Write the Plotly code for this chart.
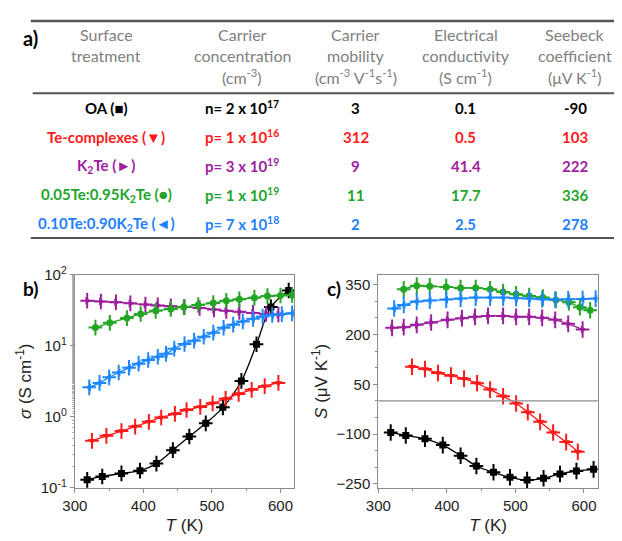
import plotly.graph_objects as go

# ---------------- table data ----------------
header_col1 = ["Surface", "treatment"]
header_col2 = ["Carrier", "concentration", "(cm<sup>-3</sup>)"]
header_col3 = ["Carrier", "mobility", "(cm<sup>-3</sup> V<sup>-1</sup>s<sup>-1</sup>)"]
header_col4 = ["Electrical", "conductivity", "(S cm<sup>-1</sup>)"]
header_col5 = ["Seebeck", "coefficient", "(μV K<sup>-1</sup>)"]

treatments = ["OA (■)", "Te-complexes (▼)", "K<sub>2</sub>Te (►)",
              "0.05Te:0.95K<sub>2</sub>Te (●)", "0.10Te:0.90K<sub>2</sub>Te (◄)"]
carrier_conc = ["n= 2 x 10<sup>17</sup>", "p= 1 x 10<sup>16</sup>", "p= 3 x 10<sup>19</sup>",
                "p= 1 x 10<sup>19</sup>", "p= 7 x 10<sup>18</sup>"]
mobility = ["3", "312", "9", "11", "2"]
conductivity = ["0.1", "0.5", "41.4", "17.7", "2.5"]
seebeck = ["-90", "103", "222", "336", "278"]
row_colors = ["#000000", "#FF1A1A", "#A0209F", "#22A52B", "#1F7FFF"]

# ---------------- panel b: conductivity ----------------
T_oa_b = [318, 340, 368, 395, 419, 443, 467, 491, 516, 543, 565, 586, 612]
sig_oa = [0.13, 0.145, 0.16, 0.175, 0.22, 0.34, 0.53, 0.81, 1.36, 3.2, 10.5, 35, 60]

T_te_b = [325, 346, 368, 388, 408, 426, 446, 463, 483, 501, 520, 539, 558, 577, 597]
sig_te = [0.46, 0.54, 0.63, 0.73, 0.85, 0.98, 1.1, 1.25, 1.38, 1.55, 1.8, 2.1, 2.4, 2.7, 3.0]

T_k2_b = [318, 338, 360, 381, 403, 421, 440, 460, 482, 503, 521, 540, 560, 579, 597]
sig_k2 = [43, 42, 41, 39.5, 38, 37, 36, 35, 34, 32.5, 31, 30, 29, 28, 27.5]

T_g_b = [330, 351, 376, 396, 418, 440, 459, 480, 502, 521, 540, 562, 581, 600, 617]
sig_g = [18, 21, 24.5, 28, 31, 33, 35, 37.5, 40, 43, 45, 47.5, 50, 51, 52]

T_bl_b = [321, 336, 350, 364, 379, 393, 407, 421, 433, 445, 460, 474, 488, 502, 517,
          531, 545, 560, 574, 588, 602, 617]
sig_bl = [2.6, 3.0, 3.6, 4.2, 4.9, 5.6, 6.3, 7.0, 7.7, 9.1, 10.6, 11.8, 13.4, 15.3, 17.9,
          19.8, 22.0, 23.9, 25.8, 27.1, 27.9, 28.6]

# ---------------- panel c: Seebeck ----------------
T_oa_c = [318, 340, 368, 394, 420, 443, 468, 492, 517, 541, 565, 589, 614]
S_oa = [-95, -104, -114, -133, -165, -196, -215, -230, -238, -233, -220, -211, -206]

T_te_c = [349, 368, 387, 406, 425, 444, 463, 482, 501, 518, 536, 555, 574, 591]
S_te = [103, 96, 84, 76, 67, 53, 34, 14, -8, -34, -63, -95, -124, -153]

T_k2_c = [320, 337, 356, 377, 401, 422, 441, 460, 482, 501, 520, 539, 558, 577, 598]
S_k2 = [220, 222, 229, 236, 244, 249, 253, 256, 256, 253, 253, 250, 244, 232, 215]

T_g_c = [337, 356, 375, 399, 420, 442, 463, 482, 501, 520, 540, 559, 578, 594, 609]
S_g = [336, 347, 345, 343, 340, 340, 336, 328, 321, 316, 311, 304, 297, 282, 273]

T_bl_c = [323, 337, 356, 375, 399, 420, 442, 463, 482, 501, 520, 539, 558, 577, 598, 617]
S_bl = [278, 289, 299, 302, 305, 308, 311, 311, 311, 309, 308, 306, 305, 306, 307, 308]

# ---------------- styling ----------------
W, H = 622, 541
PLOT_FONT = "Liberation Sans, Arial, sans-serif"
TABLE_FONT = "Lato, Open Sans, sans-serif"
COL_X = [87, 226, 342, 454, 566]

def px(x):
    return x / W

def py(y):
    return 1 - y / H

fig = go.Figure()

series_b = [
    (T_oa_b, sig_oa, row_colors[0], "square"),
    (T_te_b, sig_te, row_colors[1], "triangle-down"),
    (T_k2_b, sig_k2, "#9C1F9C", "triangle-right"),
    (T_g_b, sig_g, "#25A525", "circle"),
    (T_bl_b, sig_bl, "#1E88FF", "triangle-left"),
]
for T, s, c, sym in series_b:
    fig.add_trace(go.Scatter(
        x=T, y=s, mode="lines+markers", xaxis="x", yaxis="y",
        line=dict(color=c, width=1.3, shape="spline"),
        marker=dict(symbol=sym, size=7, color=c),
        error_x=dict(type="constant", value=10, color=c, thickness=2, width=0),
        error_y=dict(type="data", array=[v * (10 ** 0.11 - 1) for v in s],
                     arrayminus=[v * (1 - 10 ** -0.11) for v in s],
                     color=c, thickness=2, width=0),
        showlegend=False, hoverinfo="skip"))

series_c = [
    (T_oa_c, S_oa, row_colors[0], "square"),
    (T_te_c, S_te, row_colors[1], "triangle-down"),
    (T_k2_c, S_k2, "#9C1F9C", "triangle-right"),
    (T_g_c, S_g, "#25A525", "circle"),
    (T_bl_c, S_bl, "#1E88FF", "triangle-left"),
]
for T, s, c, sym in series_c:
    fig.add_trace(go.Scatter(
        x=T, y=s, mode="lines+markers", xaxis="x2", yaxis="y2",
        line=dict(color=c, width=1.3, shape="spline"),
        marker=dict(symbol=sym, size=7, color=c),
        error_x=dict(type="constant", value=10, color=c, thickness=2, width=0),
        error_y=dict(type="constant", value=25, color=c, thickness=2, width=0),
        showlegend=False, hoverinfo="skip"))

axis_common = dict(
    showline=True, linecolor="#8c8c8c", linewidth=1.2, mirror=True,
    ticks="outside", ticklen=4, tickcolor="#8c8c8c", showgrid=False, zeroline=False,
    tickfont=dict(family=PLOT_FONT, size=15, color="#222"),
)

fig.update_layout(
    width=W, height=H,
    margin=dict(l=0, r=0, t=0, b=0),
    paper_bgcolor="white", plot_bgcolor="white",
    xaxis=dict(domain=[px(55), px(279)], anchor="y", range=[300, 620],
               tickvals=[300, 400, 500, 600],
               minor=dict(ticks="outside", ticklen=2, dtick=50, tick0=300, tickcolor="#8c8c8c"),
               title=dict(text="<i>T</i> (K)", font=dict(family=PLOT_FONT, size=17, color="#222"),
                          standoff=6),
               **axis_common),
    yaxis=dict(domain=[py(486), py(265)], anchor="x", type="log", range=[-1, 2],
               tickvals=[0.1, 1, 10, 100],
               ticktext=["10<sup>-1</sup>", "10<sup>0</sup>", "10<sup>1</sup>", "10<sup>2</sup>"],
               minor=dict(ticks="outside", ticklen=2, tickcolor="#b0b0b0", tickwidth=0.8),
               title=dict(text="<i>σ</i> (S cm<sup>-1</sup>)",
                          font=dict(family=PLOT_FONT, size=17, color="#222"), standoff=4),
               **axis_common),
    xaxis2=dict(domain=[px(365), px(589)], anchor="y2", range=[300, 620],
                tickvals=[300, 400, 500, 600],
                minor=dict(ticks="outside", ticklen=2, dtick=50, tick0=300, tickcolor="#8c8c8c"),
                title=dict(text="<i>T</i> (K)", font=dict(family=PLOT_FONT, size=17, color="#222"),
                           standoff=6),
                **axis_common),
    yaxis2=dict(domain=[py(486), py(265)], anchor="x2", range=[-262, 380],
                tickvals=[-250, -100, 50, 200, 350],
                minor=dict(ticks="outside", ticklen=2, dtick=50, tick0=0, tickcolor="#8c8c8c"),
                title=dict(text="<i>S</i> (μV K<sup>-1</sup>)",
                           font=dict(family=PLOT_FONT, size=17, color="#222"), standoff=4),
                **axis_common),
)

shapes = []
# zero line in panel c
shapes.append(dict(type="line", xref="x2 domain", yref="y2", x0=0, x1=1, y0=0, y1=0,
                   line=dict(color="#8c8c8c", width=1.2)))
# table rules
for y0, x0, wdt in [(2, 10, 2.5), (77, 12, 2), (227, 10, 2)]:
    shapes.append(dict(type="line", xref="paper", yref="paper",
                       x0=px(x0), x1=1, y0=py(y0), y1=py(y0),
                       line=dict(color="#555555", width=wdt)))
fig.update_layout(shapes=shapes)

ann = []
def add(text, x, y, size, color, bold=False, xanchor="center"):
    ann.append(dict(text=f"<b>{text}</b>" if bold else text, x=px(x), y=py(y),
                    xref="paper", yref="paper", showarrow=False,
                    xanchor=xanchor, yanchor="middle",
                    font=dict(family=TABLE_FONT, size=size, color=color)))

add("a)", 0, 20, 20, "#000", bold=True, xanchor="left")
head_y = [16, 38, 60]
for cx, lines in zip(COL_X, [header_col1, header_col2, header_col3, header_col4, header_col5]):
    for i, t in enumerate(lines):
        add(t, cx, head_y[i], 16, "#808080")

row_y = [92, 122, 152, 182, 212]
for i in range(5):
    vals = [treatments[i], carrier_conc[i], mobility[i], conductivity[i], seebeck[i]]
    for cx, t in zip(COL_X, vals):
        add(t, cx, row_y[i], 15, row_colors[i], bold=True)

# panel labels
ann.append(dict(text="<b>b)</b>", x=px(0), y=py(279), xref="paper", yref="paper",
                showarrow=False, xanchor="left", yanchor="middle",
                font=dict(family=TABLE_FONT, size=19, color="#000")))
ann.append(dict(text="<b>c)</b>", x=px(310), y=py(279), xref="paper", yref="paper",
                showarrow=False, xanchor="left", yanchor="middle",
                font=dict(family=TABLE_FONT, size=19, color="#000")))
fig.update_layout(annotations=ann)

fig.write_html("out.html")
